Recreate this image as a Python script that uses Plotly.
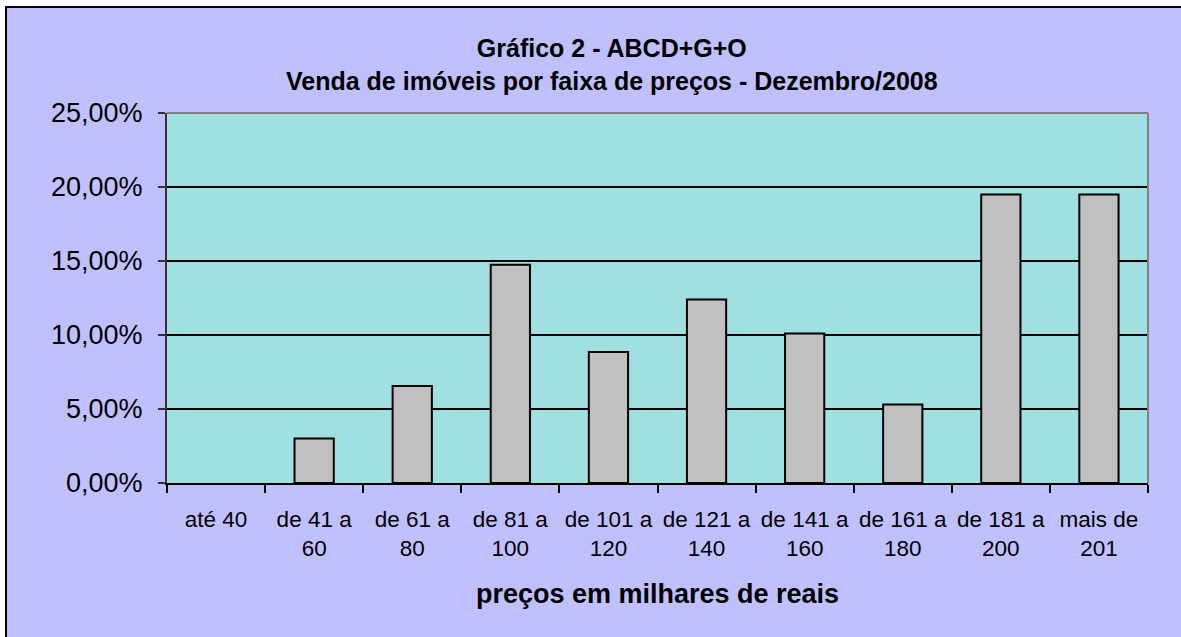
import plotly.graph_objects as go

categories = ["até 40", "de 41 a<br>60", "de 61 a<br>80", "de 81 a<br>100", "de 101 a<br>120",
              "de 121 a<br>140", "de 141 a<br>160", "de 161 a<br>180", "de 181 a<br>200", "mais de<br>201"]
share_pct = [0.0, 3.0, 6.55, 14.75, 8.85, 12.4, 10.1, 5.3, 19.5, 19.5]
title_line1 = "Gráfico 2 - ABCD+G+O"
title_line2 = "Venda de imóveis por faixa de preços - Dezembro/2008"
x_title = "preços em milhares de reais"

FONT = "Arial, Liberation Sans, sans-serif"
W, H = 1181, 637
L, R, T, B = 167, 33, 113, 154
pw, ph = W - L - R, H - T - B

def px(x):
    return (x - L) / pw

def py(y):
    return (H - B - y) / ph

fig = go.Figure()
fig.add_trace(go.Bar(
    x=categories,
    y=[v / 100 for v in share_pct],
    width=0.40,
    marker=dict(color="#C0C0C0",
                line=dict(color="black", width=[2 if v > 0 else 0 for v in share_pct])),
    hoverinfo="x+y",
))

fig.update_layout(
    width=W, height=H,
    margin=dict(l=L, r=R, t=T, b=B, pad=0),
    paper_bgcolor="#C0C0FF",
    plot_bgcolor="#A0E0E0",
    separators=",.",
    showlegend=False,
    font=dict(family=FONT, color="black"),
    xaxis=dict(
        type="category",
        tickson="boundaries",
        tickangle=0,
        ticks="outside", ticklen=8, tickwidth=1.5, tickcolor="black",
        showline=True, linecolor="black", linewidth=2,
        showgrid=False,
        tickfont=dict(size=22.5, family=FONT, color="black"),
        ticklabelstandoff=15,
        title=dict(text="<b>" + x_title + "</b>", font=dict(size=27, family=FONT, color="black"), standoff=24),
    ),
    yaxis=dict(
        range=[0, 0.25], dtick=0.05, tick0=0,
        tickformat=".2%",
        ticks="outside", ticklen=7, tickwidth=1.5, tickcolor="#333333",
        showline=True, linecolor="#333333", linewidth=2,
        showgrid=True, gridcolor="black", gridwidth=1.5,
        zeroline=False,
        tickfont=dict(size=27, family=FONT, color="black"),
        ticklabelstandoff=10,
    ),
    shapes=[
        # white outer margin on left and top
        dict(type="rect", xref="paper", yref="paper", x0=px(0), x1=px(5), y0=py(H), y1=py(0),
             line=dict(width=0), fillcolor="white", layer="above"),
        dict(type="rect", xref="paper", yref="paper", x0=px(0), x1=px(W), y0=py(6), y1=py(0),
             line=dict(width=0), fillcolor="white", layer="above"),
        # black outer border (left and top only visible)
        dict(type="line", xref="paper", yref="paper", x0=px(6), x1=px(6), y0=py(H), y1=py(6.5),
             line=dict(color="black", width=2), layer="above"),
        dict(type="line", xref="paper", yref="paper", x0=px(5.5), x1=px(W), y0=py(7), y1=py(7),
             line=dict(color="black", width=2), layer="above"),
        # gray top & right plot border
        dict(type="line", xref="paper", yref="paper", x0=0, x1=1, y0=1, y1=1,
             line=dict(color="#808080", width=2), layer="above"),
        dict(type="line", xref="paper", yref="paper", x0=1, x1=1, y0=0, y1=1,
             line=dict(color="#808080", width=2), layer="above"),
    ],
    annotations=[
        dict(text="<b>" + title_line1 + "</b><br><b>" + title_line2 + "</b>", xref="paper", yref="paper",
             x=px(612), y=py(64), showarrow=False, xanchor="center", yanchor="middle", align="center",
             font=dict(size=25, family=FONT, color="black")),
    ],
)

fig.write_html("out.html",
               config={"displayModeBar": False},
               post_script="document.body.style.margin='0';document.body.style.padding='0';"
                           "document.body.style.overflow='hidden';")
